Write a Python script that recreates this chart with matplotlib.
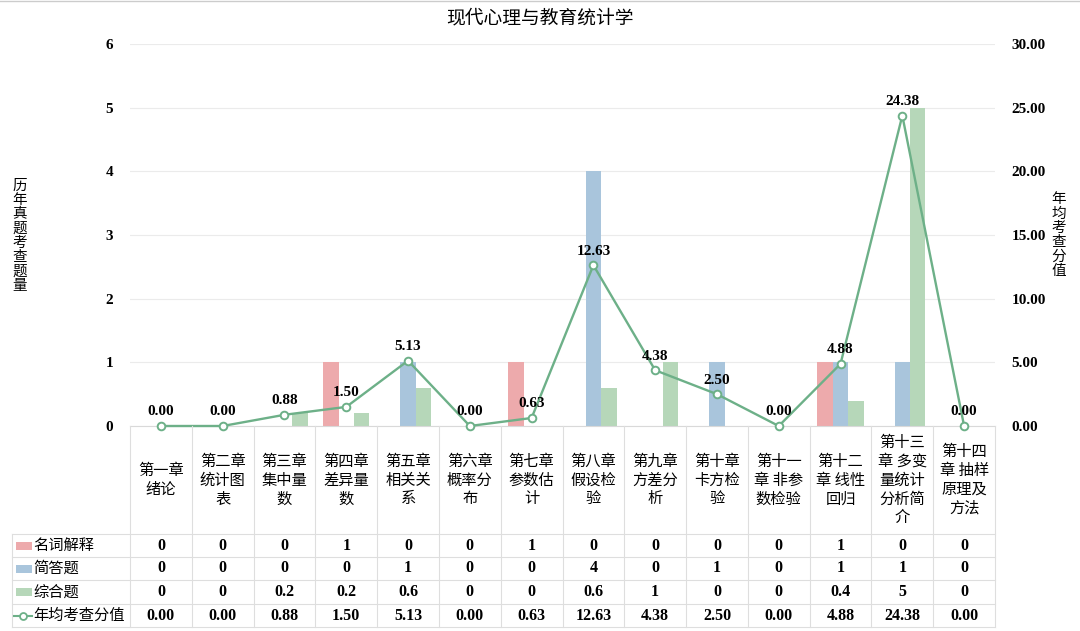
import matplotlib
matplotlib.use('Agg')
import matplotlib.pyplot as plt
from matplotlib import transforms
from matplotlib.lines import Line2D
from matplotlib.patches import Rectangle

# ---------------- data ----------------
categories = ["第一章\n绪论", "第二章\n统计图\n表", "第三章\n集中量\n数", "第四章\n差异量\n数",
              "第五章\n相关关\n系", "第六章\n概率分\n布", "第七章\n参数估\n计", "第八章\n假设检\n验",
              "第九章\n方差分\n析", "第十章\n卡方检\n验", "第十一\n章 非参\n数检验", "第十二\n章 线性\n回归",
              "第十三\n章 多变\n量统计\n分析简\n介", "第十四\n章 抽样\n原理及\n方法"]
mingci = [0, 0, 0, 1, 0, 0, 1, 0, 0, 0, 0, 1, 0, 0]
jianda = [0, 0, 0, 0, 1, 0, 0, 4, 0, 1, 0, 1, 1, 0]
zonghe = [0, 0, 0.2, 0.2, 0.6, 0, 0, 0.6, 1, 0, 0, 0.4, 5, 0]
score = [0.00, 0.00, 0.88, 1.50, 5.13, 0.00, 0.63, 12.63, 4.38, 2.50, 0.00, 4.88, 24.38, 0.00]
series_names = ["名词解释", "简答题", "综合题", "年均考查分值"]
left_ticks = [0, 1, 2, 3, 4, 5, 6]
right_ticks = [0, 5, 10, 15, 20, 25, 30]
title = "现代心理与教育统计学"
left_label = "历年真题考查题量"
right_label = "年均考查分值"

# ---------------- style ----------------
c_pink = '#EDAAAC'
c_blue = '#A9C5DC'
c_green = '#B6D7B9'
c_line = '#6DB088'
grid_c = '#EBEBEB'
tab_c = '#DEDEDE'
cjk = ['Noto Sans CJK SC', 'DejaVu Sans']
numfont = dict(family=['Liberation Serif', 'DejaVu Serif'], weight='bold')

W, H = 1080, 631
fig = plt.figure(figsize=(W / 100, H / 100), dpi=100)

def fx(px):
    return px / W

def fy(py):
    return 1 - py / H

L, R, T, B = 130, 995, 44, 426
ax = fig.add_axes([fx(L), fy(B), (R - L) / W, (B - T) / H])
ax2 = ax.twinx()

n = len(categories)
xs = list(range(n))
bw = 0.25
series = [mingci, jianda, zonghe]
colors = [c_pink, c_blue, c_green]
for k, (vals, col) in enumerate(zip(series, colors)):
    ax.bar([x + (k - 1) * bw for x in xs], vals, width=bw, color=col, zorder=2)

ax.set_xlim(-0.5, n - 0.5)
ax.set_ylim(0, 6)
ax.set_yticks(left_ticks)
ax.set_yticklabels([str(t) for t in left_ticks], fontsize=11, **numfont)
ax.set_xticks([])
for s in ax.spines.values():
    s.set_visible(False)
ax.spines['bottom'].set_visible(True)
ax.spines['bottom'].set_color('#D9D9D9')
ax.grid(axis='y', color=grid_c, lw=0.8, zorder=0)
ax.set_axisbelow(True)
ax.tick_params(axis='y', length=0, pad=12)

ax2.plot(xs, score, color=c_line, lw=1.7, marker='o', ms=5.5, mfc='white', mec=c_line, mew=1.4,
         zorder=5, clip_on=False)
ax2.set_ylim(0, 30)
ax2.set_yticks(right_ticks)
ax2.set_yticklabels(['%.2f' % t for t in right_ticks], fontsize=11, **numfont)
ax2.tick_params(axis='y', length=0, pad=12)
for s in ax2.spines.values():
    s.set_visible(False)
for x, v in zip(xs, score):
    ax2.annotate('%.2f' % v, (x, v), xytext=(0, 5.5), textcoords='offset points',
                 ha='center', va='bottom', fontsize=11, zorder=6, **numfont)

# title & axis labels
fig.text(0.5, fy(18), title, ha='center', va='center', fontsize=13.5, family=cjk)
fig.text(fx(20), fy(236), '\n'.join(left_label), ha='center', va='center', fontsize=10.5,
         family=cjk, linespacing=1.02)
fig.text(fx(1059), fy(235), '\n'.join(right_label), ha='center', va='center', fontsize=10.5,
         family=cjk, linespacing=1.02)

# ---------------- data table ----------------
bt = transforms.blended_transform_factory(ax.transData, fig.transFigure)
rows_y = [534, 557, 580, 604, 627]
for i in range(n + 1):
    xl = i - 0.5
    fig.add_artist(Line2D([xl, xl], [fy(B), fy(627)], transform=bt, color=tab_c, lw=0.8))
fig.add_artist(Line2D([fx(12), fx(12)], [fy(534), fy(627)], transform=fig.transFigure,
                      color=tab_c, lw=0.8))
for yy in rows_y:
    fig.add_artist(Line2D([fx(12), fx(R)], [fy(yy), fy(yy)], transform=fig.transFigure,
                          color=tab_c, lw=0.8))

for i, cat in enumerate(categories):
    fig.text(i, fy(480), cat, transform=bt, ha='center', va='center', fontsize=11,
             family=cjk, linespacing=1.15)

row_centers = [(rows_y[j] + rows_y[j + 1]) / 2 for j in range(4)]
all_rows = [mingci, jianda, zonghe, score]
for j, vals in enumerate(all_rows):
    for i, v in enumerate(vals):
        s = ('%.2f' % v) if j == 3 else ('%g' % v)
        fig.text(i, fy(row_centers[j]), s, transform=bt, ha='center', va='center',
                 fontsize=11.5, **numfont)
    yc = row_centers[j]
    if j < 3:
        fig.add_artist(Rectangle((fx(16), fy(yc + 4)), fx(16), 8 / H, transform=fig.transFigure,
                                 color=colors[j], lw=0))
    else:
        fig.add_artist(Line2D([fx(14), fx(32)], [fy(yc), fy(yc)], transform=fig.transFigure,
                              color=c_line, lw=1.5))
        fig.add_artist(Line2D([fx(23)], [fy(yc)], transform=fig.transFigure, marker='o', ms=5,
                              mfc='white', mec=c_line, mew=1.3, lw=0))
    fig.text(fx(33), fy(yc), series_names[j], ha='left', va='center', fontsize=11, family=cjk)

# top border
fig.add_artist(Line2D([0, 1], [fy(0.5), fy(0.5)], transform=fig.transFigure, color='#CCCCCC', lw=1))

fig.savefig('out.png', dpi=100, facecolor='white')
